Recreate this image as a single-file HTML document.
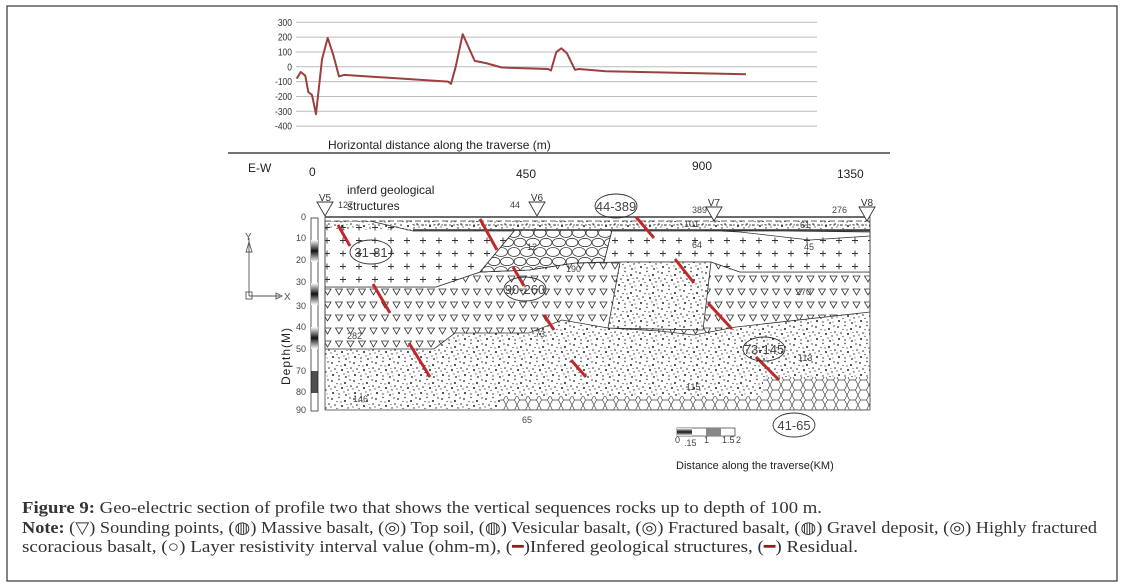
<!DOCTYPE html>
<html><head><meta charset="utf-8"><style>
html,body{margin:0;padding:0;background:#fff}
svg{display:block}
.cap{font-family:"Liberation Serif",serif;font-size:16.5px;fill:#333}
.sm{font-family:"Liberation Sans",sans-serif;font-size:9px;fill:#444}
.lab{font-family:"Liberation Sans",sans-serif;fill:#222}
</style></head><body>
<svg id="fig" width="1124" height="587" viewBox="0 0 1124 587" xmlns="http://www.w3.org/2000/svg">
<defs>
<pattern id="plus" width="16" height="13" patternUnits="userSpaceOnUse"><path d="M4 6.5h6M7 3.5v6" stroke="#333" stroke-width="0.9"/></pattern>
<pattern id="tri" width="11.5" height="13" patternUnits="userSpaceOnUse"><path d="M2 3h7l-3.5 6z" fill="none" stroke="#333" stroke-width="0.8"/></pattern>
<pattern id="speck" width="22" height="18" patternUnits="userSpaceOnUse"><g fill="#222"><circle cx="2" cy="3" r="0.9"/><circle cx="9" cy="1.5" r="0.7"/><circle cx="15" cy="5" r="1"/><circle cx="20" cy="2" r="0.7"/><circle cx="5" cy="9" r="0.8"/><circle cx="12" cy="10" r="1"/><circle cx="18" cy="12" r="0.7"/><circle cx="3" cy="15" r="1"/><circle cx="9" cy="16" r="0.7"/><circle cx="16" cy="17" r="0.9"/><circle cx="7" cy="5.5" r="0.6"/><circle cx="14" cy="14" r="0.6"/><circle cx="21" cy="8" r="0.8"/><circle cx="11" cy="6" r="0.6"/><circle cx="1" cy="11" r="0.6"/><circle cx="19" cy="16" r="0.5"/><circle cx="7" cy="12.5" r="0.6"/><circle cx="17" cy="8.5" r="0.5"/></g></pattern>
<pattern id="hex" width="11" height="10" patternUnits="userSpaceOnUse"><path d="M0 5l2.5-5h6l2.5 5-2.5 5h-6z" fill="none" stroke="#444" stroke-width="0.7"/></pattern>
<pattern id="grav" width="26" height="19" patternUnits="userSpaceOnUse"><g fill="#fff" stroke="#333" stroke-width="0.8"><ellipse cx="7" cy="5" rx="6.5" ry="4.5"/><ellipse cx="20" cy="5" rx="6" ry="4.5"/><ellipse cx="13" cy="14.5" rx="6.5" ry="4.2"/><ellipse cx="0" cy="14.5" rx="6" ry="4.2"/><ellipse cx="26" cy="14.5" rx="6" ry="4.2"/></g></pattern>
<linearGradient id="gb" x1="0" y1="0" x2="0" y2="1"><stop offset="0" stop-color="#fff"/><stop offset="0.5" stop-color="#111"/><stop offset="1" stop-color="#fff"/></linearGradient>
</defs>
<rect x="7" y="6" width="1110" height="575" fill="none" stroke="#333" stroke-width="1.2"/>

<g id="topchart"></g>
<line x1="228" y1="153" x2="890" y2="153" stroke="#222" stroke-width="1.2"/>

<g id="section">
  <text class="lab" x="248" y="172" font-size="12">E-W</text>
  <text class="lab" x="309" y="176" font-size="12">0</text>
  <text class="lab" x="516" y="178" font-size="12">450</text>
  <text class="lab" x="692" y="170" font-size="12">900</text>
  <text class="lab" x="837" y="178" font-size="12">1350</text>
  <text class="lab" x="347" y="194" font-size="12">inferd geological</text>
  <text class="lab" x="347" y="210" font-size="12">structures</text>

  <rect x="325" y="217" width="545" height="193" fill="url(#speck)"/>
  <path d="M500 410 L500 396 L763 396 L763 377 L870 377 L870 410Z" fill="#fff"/>
  <path d="M500 410 L500 396 L763 396 L763 377 L870 377 L870 410Z" fill="url(#hex)"/>
  <path d="M325 349 L434 349 L455 333 L529 333 L562 320 L608 328 L660 331 L694 335 L736 327 L870 312 L870 272 L740 272 L711 262 L620 262 L575 263 L529 270 L480 272 L436 287 L325 287Z" fill="#fff"/>
  <path d="M325 349 L434 349 L455 333 L529 333 L562 320 L608 328 L660 331 L694 335 L736 327 L870 312 L870 272 L740 272 L711 262 L620 262 L575 263 L529 270 L480 272 L436 287 L325 287Z" fill="url(#tri)" stroke="#333" stroke-width="0.8"/>
  <path d="M325 230 L870 230 L870 272 L740 272 L711 262 L620 262 L575 263 L529 270 L480 272 L436 287 L325 287Z" fill="#fff"/>
  <path d="M325 221 L370 221 L413 231 L870 231 L870 236 L810 240 L740 232 L700 230 L870 232 L870 272 L740 272 L711 262 L620 262 L575 263 L529 270 L480 272 L436 287 L325 287Z" fill="url(#plus)" stroke="#333" stroke-width="0.8"/>
  <path d="M620 262 L711 262 L703 330 L608 328Z" fill="#fff" stroke="#333" stroke-width="0.8"/>
  <path d="M620 262 L711 262 L703 330 L608 328Z" fill="url(#speck)"/>
  <path d="M480 272 L515 230 L612 230 L604 262 L575 263 L529 270Z" fill="#fff" stroke="#333" stroke-width="0.8"/>
  <path d="M480 272 L515 230 L612 230 L604 262 L575 263 L529 270Z" fill="url(#grav)" stroke="#333" stroke-width="0.8"/>
  <g stroke="#333" stroke-width="0.7">
    <rect x="325" y="217" width="545" height="4" fill="#fff" stroke="none"/>
    <line x1="325" y1="217" x2="870" y2="217" stroke-width="1.6"/>
    <line x1="325" y1="221" x2="870" y2="221" stroke-dasharray="6 3"/>
    <line x1="413" y1="225" x2="870" y2="225" stroke-dasharray="2 2"/>
    <line x1="413" y1="230" x2="870" y2="230" stroke-width="1.4"/>
  </g>
  <rect x="325" y="217" width="545" height="193" fill="none" stroke="#444" stroke-width="0.8"/>

  <g id="faults"></g>
  <g id="ellipses"></g>
  <g id="vals"></g>
  <g id="sounds"></g>

  <g>
    <rect x="311" y="218" width="7" height="193" fill="#fff" stroke="#333" stroke-width="0.8"/>
    <rect x="311" y="240" width="7" height="22" fill="url(#gb)"/>
    <rect x="311" y="283" width="7" height="22" fill="url(#gb)"/>
    <rect x="311" y="327" width="7" height="22" fill="url(#gb)"/>
    <rect x="311" y="371" width="7" height="22" fill="#222" opacity="0.8"/>
    <g id="dlabels"></g>
  </g>
  <text class="lab" font-size="12" transform="translate(290,385) rotate(-90)" letter-spacing="1">Depth(M)</text>
  <g stroke="#555" fill="none" stroke-width="0.9">
    <line x1="249" y1="238" x2="249" y2="296"/><path d="M246 252l3-10 3 10z"/>
    <line x1="249" y1="296" x2="280" y2="296"/><path d="M276 293l6 3-6 3z"/>
    <rect x="246" y="292" width="6" height="7"/>
    <text x="245" y="240" font-size="10" fill="#555" stroke="none" font-family="Liberation Sans">Y</text>
    <text x="284" y="300" font-size="10" fill="#555" stroke="none" font-family="Liberation Sans">X</text>
  </g>
  <g>
    <rect x="677" y="428" width="58" height="8" fill="#fff" stroke="#333" stroke-width="0.7"/>
    <rect x="677" y="428" width="15" height="8" fill="url(#gb)"/>
    <rect x="706" y="428" width="15" height="8" fill="#888"/>
    <text class="sm" x="675" y="443" font-size="7">0</text><text class="sm" x="684" y="446" font-size="7">.15</text>
    <text class="sm" x="704" y="443" font-size="7">1</text><text class="sm" x="722" y="443" font-size="7">1.5</text><text class="sm" x="736" y="443" font-size="7">2</text>
  </g>
  <text class="lab" x="676" y="469" font-size="11" font-family="Liberation Mono">Distance along the traverse(KM)</text>
</g>

<g>
  <text class="cap" x="22" y="513" textLength="800" lengthAdjust="spacingAndGlyphs"><tspan font-weight="bold">Figure 9:</tspan> Geo-electric section of profile two that shows the vertical sequences rocks up to depth of 100 m.</text>
  <text class="cap" x="22" y="533" textLength="1075" lengthAdjust="spacingAndGlyphs"><tspan font-weight="bold">Note:</tspan> (▽) Sounding points, (◍) Massive basalt, (◎) Top soil, (◍) Vesicular basalt, (◎) Fractured basalt, (◍) Gravel deposit, (◎) Highly fractured</text>
  <text class="cap" x="22" y="552" textLength="836" lengthAdjust="spacingAndGlyphs">scoracious basalt, (○) Layer resistivity interval value (ohm-m), (<tspan fill="#8b2020">━</tspan>)Infered geological structures, (<tspan fill="#8b2020">━</tspan>) Residual.</text>
</g>
</svg>
<script>
const NS='http://www.w3.org/2000/svg';
// ---- top residual chart data ----
const distances=[2,14,28,37,48,60,78,95,112,129,144,456,465,479,500,536,570,617,756,765,781,796,813,837,848,929,1350];
const residuals=[-80,-35,-60,-170,-190,-320,50,195,80,-65,-55,-100,-115,0,220,40,25,-5,-15,-25,100,125,90,-20,-15,-30,-50];
const yTicks=[300,200,100,0,-100,-200,-300,-400];
const xS=d=>296+d/1350*450;
const yS=v=>22.3+(300-v)*0.1483;
const tc=document.getElementById('topchart');
function mk(tag,attrs,parent){const e=document.createElementNS(NS,tag);for(const k in attrs)e.setAttribute(k,attrs[k]);parent.appendChild(e);return e;}
yTicks.forEach(t=>{
  const g=mk('line',{x1:296,x2:817,y1:yS(t),y2:yS(t),stroke:'#bbb','stroke-width':1},tc);
  
  
  const tx=mk('text',{x:292,y:yS(t)+3.5,'text-anchor':'end','font-size':10,'font-family':'Liberation Sans Narrow, Liberation Sans, sans-serif',fill:'#333',transform:`translate(${292*0.15},0) scale(0.85,1)`},tc);
  tx.textContent=t;
  
  
});
const pth=mk('path',{d:distances.map((d,i)=>(i?'L':'M')+xS(d).toFixed(1)+' '+yS(residuals[i]).toFixed(1)).join(' '),fill:'none',stroke:'#9b3f3f','stroke-width':2,'stroke-linejoin':'round'},tc);


const at=mk('text',{x:328,y:149,'font-size':12,'font-family':'Liberation Sans, sans-serif',fill:'#222'},tc);
at.textContent='Horizontal distance along the traverse (m)';



// ---- section annotations ----
const faultStarts=[[338,225],[480,219],[513,267],[373,284],[409,343],[544,315],[571,360],[636,217],[675,259],[708,303],[756,357]];
const faultEnds=[[350,246],[497,250],[524,286],[390,313],[430,377],[554,330],[586,377],[654,238],[694,283],[732,329],[779,380]];
const fg=document.getElementById('faults');
faultStarts.forEach((s,i)=>{const l=mk('line',{x1:s[0],y1:s[1],x2:faultEnds[i][0],y2:faultEnds[i][1],stroke:'#c0282a','stroke-width':3},fg);
  
  });
const ellLabels=['31-81','90-260','44-389','73-145','41-65'];
const ellCenters=[[371,252],[525,289],[616,206],[764,349],[794,425]];
const eg=document.getElementById('ellipses');
ellLabels.forEach((t,i)=>{const c=ellCenters[i];
  const e=mk('ellipse',{cx:c[0],cy:c[1],rx:21,ry:12,fill:'none',stroke:'#333','stroke-width':0.9},eg);
  
  
  const tx=mk('text',{x:c[0],y:c[1]+5,'text-anchor':'middle','font-size':13,'font-family':'Liberation Sans Narrow, Liberation Sans, sans-serif',fill:'#444'},eg);
  tx.textContent=t;
  
  });
const valLabels=['127','44','389','276','101','61','64','45','12','190','270','282','73','113','115','146','65'];
const valPos=[[338,208],[510,208],[692,213],[832,213],[684,227],[800,228],[692,248],[804,250],[527,250],[566,272],[796,295],[347,339],[535,337],[798,361],[686,390],[353,402],[522,423]];
const vg=document.getElementById('vals');
valLabels.forEach((t,i)=>{const tx=mk('text',{x:valPos[i][0],y:valPos[i][1],class:'sm'},vg);tx.textContent=t;
  
  });
const vNames=['V5','V6','V7','V8'];
const vPos=[[325,202],[537,202],[714,207],[867,207]];
const sg=document.getElementById('sounds');
vNames.forEach((t,i)=>{const [x,y]=vPos[i];
  const p=mk('path',{d:`M${x-8} ${y} h16 l-8 14z`,fill:'#fff',stroke:'#333','stroke-width':0.9},sg);
  
  
  const tx=mk('text',{x:x,y:y-1,'text-anchor':'middle','font-size':10,'font-family':'Liberation Sans',fill:'#333'},sg);tx.textContent=t;
  
  });
const depthLabels=['0','10','20','30','30','40','50','70','80','90'];
const depthY=[217,238,260,282,306,327,349,371,392,410];
const dg=document.getElementById('dlabels');
depthLabels.forEach((t,i)=>{const tx=mk('text',{x:306,y:depthY[i]+3,'text-anchor':'end',class:'sm','font-size':8},dg);tx.textContent=t;
  
  });
</script>
</body></html>
